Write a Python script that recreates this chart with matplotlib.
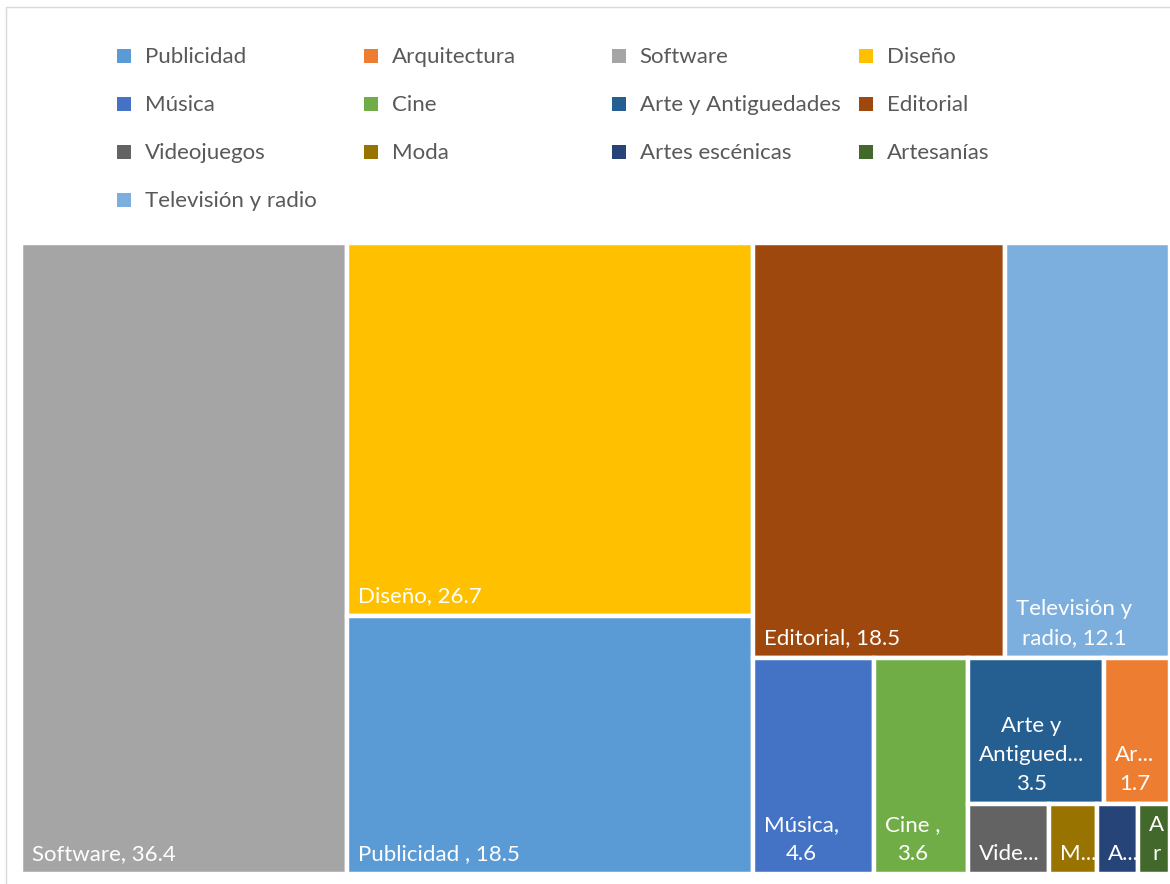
import matplotlib.pyplot as plt
from matplotlib.patches import Rectangle

# data (legend / series order)
categories = ["Publicidad", "Arquitectura", "Software", "Diseño", "Música", "Cine",
              "Arte y Antiguedades", "Editorial", "Videojuegos", "Moda",
              "Artes escénicas", "Artesanías", "Televisión y radio"]
values = [18.5, 1.7, 36.4, 26.7, 4.6, 3.6, 3.5, 18.5, 1.0, 0.6, 0.5, 0.4, 12.1]
tile_labels = ["Publicidad , 18.5", "Ar...\n1.7", "Software, 36.4", "Diseño, 26.7",
               "Música,\n4.6", "Cine ,\n3.6", "Arte y\nAntigued...\n3.5",
               "Editorial, 18.5", "Vide...", "M...", "A...", "A\nr",
               "Televisión y\nradio, 12.1"]
colors = ["#5B9BD5", "#ED7D31", "#A5A5A5", "#FFC000", "#4472C4", "#70AD47",
          "#255E91", "#9E480E", "#636363", "#997300", "#264478", "#43682B",
          "#7CAFDD"]

# how many tiles go in each strip (Excel-like grouping)
strip_counts = [1, 2, 2, 1, 1, 2, 1, 1, 1, 1]

plt.rcParams['font.family'] = ['Lato', 'DejaVu Sans']
FS = 16

W, H = 1170, 884
fig = plt.figure(figsize=(W / 100, H / 100), dpi=100)
fig.patch.set_facecolor("white")

# chart border
fig.add_artist(Rectangle((6 / W, -0.1), 1.2, 1 - 7 / H + 0.1, transform=fig.transFigure,
                         fill=False, edgecolor="#D9D9D9", lw=1.0))


def strip_layout(vals, counts, x, y, w, h):
    rects = []
    i = 0
    for n in counts:
        group = vals[i:i + n]
        frac = sum(group) / sum(vals[i:])
        gs = sum(group)
        if w >= h:
            sw = w * frac
            yy = y + h
            for v in group:
                hh = h * v / gs
                yy -= hh
                rects.append((x, yy, sw, hh))
            x += sw
            w -= sw
        else:
            sh = h * frac
            xx = x
            for v in group:
                ww = w * v / gs
                rects.append((xx, y + h - sh, ww, sh))
                xx += ww
            h -= sh
        i += n
    return rects


ax = fig.add_axes([21 / W, 10 / H, 1149 / W, 631 / H])
ax.set_axis_off()
bb = ax.get_window_extent()
aw, ah = bb.width, bb.height
ax.set_xlim(0, aw)
ax.set_ylim(0, ah)

order = sorted(range(len(values)), key=lambda k: -values[k])
sorted_vals = [values[k] for k in order]
rects = strip_layout(sorted_vals, strip_counts, 0, 0, aw, ah)

for k, (rx, ry, rw, rh) in zip(order, rects):
    ax.add_patch(Rectangle((rx, ry), rw, rh, facecolor=colors[k],
                           edgecolor="white", lw=3.2))
    ax.text(rx + 11, ry + 10, tile_labels[k], color="white", fontsize=FS,
            ha="left", va="bottom", multialignment="center", linespacing=1.55)

# legend, Excel style grid
for i, (name, c) in enumerate(zip(categories, colors)):
    col, row = i % 4, i // 4
    px = 117 + col * 247.3
    py = 56 + row * 48
    fig.add_artist(Rectangle((px / W, 1 - (py + 7) / H), 14 / W, 14 / H,
                             transform=fig.transFigure, facecolor=c, edgecolor="none"))
    fig.text((px + 28) / W, 1 - (py + 1) / H, name, fontsize=FS, color="#595959",
             ha="left", va="center")

fig.savefig("out.png", dpi=100, facecolor="white")
